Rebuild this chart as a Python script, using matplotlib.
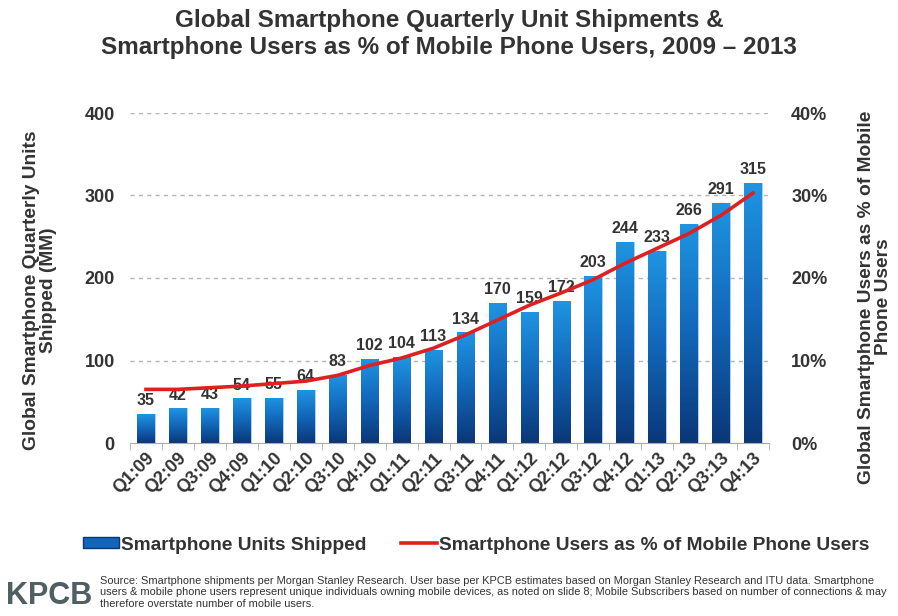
import matplotlib
matplotlib.use("Agg")
import matplotlib.pyplot as plt
import numpy as np
from matplotlib.lines import Line2D
from matplotlib.patches import Patch
from matplotlib.colors import LinearSegmentedColormap

quarters = ["Q1:09", "Q2:09", "Q3:09", "Q4:09", "Q1:10", "Q2:10", "Q3:10", "Q4:10",
            "Q1:11", "Q2:11", "Q3:11", "Q4:11", "Q1:12", "Q2:12", "Q3:12", "Q4:12",
            "Q1:13", "Q2:13", "Q3:13", "Q4:13"]
units_shipped = [35, 42, 43, 54, 55, 64, 83, 102, 104, 113, 134, 170, 159, 172, 203, 244,
                 233, 266, 291, 315]
user_pct = [6.5, 6.5, 6.7, 6.9, 7.2, 7.5, 8.2, 9.4, 10.3, 11.5, 13.1, 14.9, 16.7, 18.2,
            19.8, 21.8, 23.6, 25.4, 27.6, 30.3]
left_ticks = [0, 100, 200, 300, 400]
right_ticks = [0, 10, 20, 30, 40]

plt.rcParams['font.family'] = ['Liberation Sans', 'DejaVu Sans']
txt = '#333333'

fig = plt.figure(figsize=(8.98, 6.16), dpi=100)
ax = fig.add_axes([130/898, 1-443/616, (769-130)/898, (443-113)/616])
ax2 = ax.twinx()

x = np.arange(len(quarters))
bars = ax.bar(x, units_shipped, width=0.55, color='#1470c0', zorder=2)

cmap = LinearSegmentedColormap.from_list('bg', ['#0a3778', '#1266b8', '#1e95e3'])
grad = np.linspace(0, 1, 256).reshape(-1, 1)
for b in bars:
    bx, by = b.get_x(), b.get_y()
    w, h = b.get_width(), b.get_height()
    im = ax.imshow(grad, extent=[bx, bx + w, by, by + h], origin='lower', cmap=cmap,
                   aspect='auto', zorder=2)
    im.set_clip_path(b)
    b.set_facecolor('none')
    b.set_edgecolor('#5ab0ee')
    b.set_linewidth(0.4)

for xi, v in zip(x, units_shipped):
    ax.text(xi, v + 7, str(v), ha='center', va='bottom', fontsize=11.5, fontweight='bold', color=txt)

ax.set_xlim(-0.5, len(quarters) - 0.5)
ax.set_ylim(0, 400)
ax.set_yticks(left_ticks)
ax.set_yticklabels([str(t) for t in left_ticks], fontsize=13, fontweight='bold', color=txt)
for t in left_ticks[1:]:
    ax.axhline(t, color='#b5b5b5', linestyle=(0, (3, 3)), linewidth=1, zorder=1)

ax.set_xticks(x)
ax.set_xticklabels(quarters, rotation=45, ha='right', rotation_mode='anchor',
                   fontsize=13, fontweight='bold', color=txt)
ax.tick_params(axis='x', length=0, pad=5)
ax.set_xticks(np.arange(-0.5, len(quarters)), minor=True)
ax.tick_params(axis='x', which='minor', length=5, color='#aaaaaa', direction='out')
ax.tick_params(axis='y', length=0, pad=11)

for s in ['top', 'right', 'left']:
    ax.spines[s].set_visible(False)
    ax2.spines[s].set_visible(False)
ax.spines['bottom'].set_color('#aaaaaa')
ax2.spines['bottom'].set_visible(False)

ax2.plot(x, user_pct, color='#e02020', linewidth=2.6, zorder=3)
ax2.set_ylim(0, 40)
ax2.set_yticks(right_ticks)
ax2.set_yticklabels([f"{t}%" for t in right_ticks], fontsize=13, fontweight='bold', color=txt)
ax2.tick_params(axis='y', length=0, pad=16)

fig.text(40/898, 1-290/616, "Global Smartphone Quarterly Units\nShipped (MM)", fontsize=13.8,
         fontweight='bold', color=txt, linespacing=1.05, rotation=90, ha='center', va='center')
fig.text(875/898, 1-297/616, "Global Smartphone Users as % of Mobile\nPhone Users", fontsize=13.8,
         fontweight='bold', color=txt, linespacing=1.05, rotation=90, ha='center', va='center')

fig.text(0.5, 1-9/616, "Global Smartphone Quarterly Unit Shipments &\nSmartphone Users as % of Mobile Phone Users, 2009 \u2013 2013",
         ha='center', va='top', fontsize=17.5, fontweight='bold', color=txt, linespacing=1.2)

handles = [Patch(facecolor='#1266b8', edgecolor='#0a3778'),
           Line2D([0], [0], color='#e02020', linewidth=2.6)]
labels = ["Smartphone Units Shipped", "Smartphone Users as % of Mobile Phone Users"]
fig.legend(handles, labels, loc='center', bbox_to_anchor=(476/898, 1-545/616), ncol=2,
           frameon=False, prop={'size': 13.8, 'weight': 'bold'}, handlelength=1.9,
           handleheight=0.55, handletextpad=0.1, columnspacing=1.8, labelcolor=txt)

fig.text(6/898, 1-596/616, "KPCB", fontsize=22, fontweight='bold', color='#4f5f62',
         ha='left', va='center')
fig.text(100/898, 1-576/616,
         "Source: Smartphone shipments per Morgan Stanley Research. User base per KPCB estimates based on Morgan Stanley Research and ITU data. Smartphone\n"
         "users & mobile phone users represent unique individuals owning mobile devices, as noted on slide 8; Mobile Subscribers based on number of connections & may\n"
         "therefore overstate number of mobile users.",
         fontsize=7.9, color='#333333', ha='left', va='top', linespacing=1.17)

fig.savefig("out.png", dpi=100)
